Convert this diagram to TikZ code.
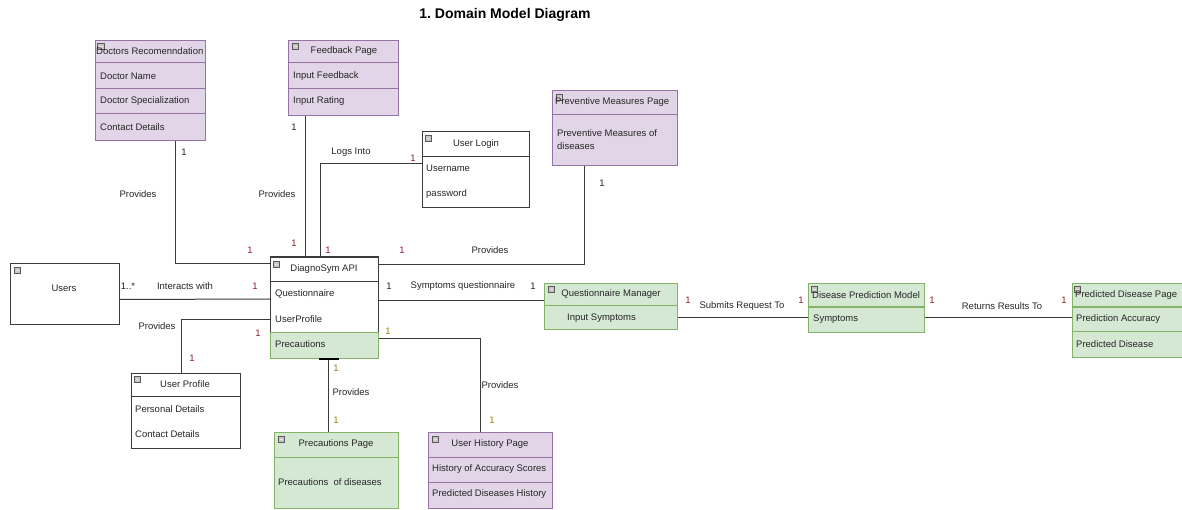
\documentclass[tikz,border=0pt]{standalone}
\usepackage{fontspec}
\setmainfont{Liberation Sans}
\frenchspacing
\begin{document}
\definecolor{pfill}{HTML}{E1D5E7}
\definecolor{pdraw}{HTML}{9673A6}
\definecolor{gfill}{HTML}{D5E8D4}
\definecolor{gdraw}{HTML}{82B366}
\definecolor{wdraw}{HTML}{3C3C3C}
\definecolor{linec}{HTML}{3A3A3A}
\definecolor{mred}{HTML}{8E1F2C}
\definecolor{molive}{HTML}{9A7B0A}
\tikzset{
  box/.style={rectangle, anchor=north west, inner sep=0pt, line width=1pt},
  pbox/.style={box, fill=pfill, draw=pdraw},
  gbox/.style={box, fill=gfill, draw=gdraw},
  wbox/.style={box, fill=white, draw=wdraw},
  psep/.style={draw=pdraw, line width=1pt},
  gsep/.style={draw=gdraw, line width=1pt},
  wsep/.style={draw=wdraw, line width=1pt},
  txt/.style={inner sep=0pt, font=\fontsize{9.5}{11}\selectfont, text=black!85},
  attr/.style={txt, anchor=west},
  hdr/.style={txt},
  conn/.style={draw=linec, line width=1pt},
  lbl/.style={txt},
  mult/.style={txt},
  icon/.style={fill=gray!45, draw=gray!70!black, line width=0.5pt},
}
\begin{tikzpicture}[x=1pt, y=-1pt]
\useasboundingbox (0,0) rectangle (1182,510);

% title
\node[font=\bfseries\fontsize{14}{16}\selectfont] (title) at (505,15) {1. Domain Model Diagram};

% ---------- class boxes ----------
% Doctors Recomenndation
\node[pbox, minimum width=110pt, minimum height=100pt] (doc) at (95,40) {};
\draw[psep] (95,63) -- (205,63) (95,89) -- (205,89) (95,114) -- (205,114);
\draw[icon] (97,43) rectangle (104,49); \draw[gray!20, line width=0.6pt] (98.5,46) -- (102.5,46);
\node[attr] (docT) at (96,51) {Doctors Recomenndation};
\node[attr] (docA) at (100,76) {Doctor Name};
\node[attr] (docB) at (100,101) {Doctor Specialization};
\node[attr] (docC) at (100,127) {Contact Details};

% Feedback Page
\node[pbox, minimum width=110pt, minimum height=75pt] (fb) at (288,40) {};
\draw[psep] (288,63) -- (398,63) (288,89) -- (398,89);
\draw[icon] (292,43) rectangle (298,49); \draw[gray!20, line width=0.6pt] (293.5,46) -- (296.5,46);
\node[hdr] (fbT) at (344,51) {Feedback Page};
\node[attr] (fbA) at (293,76) {Input Feedback};
\node[attr] (fbB) at (293,101) {Input Rating};

% User Login
\node[wbox, minimum width=107pt, minimum height=76pt] (login) at (422,131) {};
\draw[wsep] (422,157) -- (529,157);
\draw[icon] (425,135) rectangle (431,141); \draw[gray!20, line width=0.6pt] (426.5,138) -- (429.5,138);
\node[hdr] (loginT) at (476,144) {User Login};
\node[attr] (loginA) at (426,168) {Username};
\node[attr] (loginB) at (426,194) {password};

% Preventive Measures Page
\node[pbox, minimum width=125pt, minimum height=75pt] (prev) at (552,90) {};
\draw[psep] (552,115) -- (677,115);
\draw[icon] (556,94) rectangle (562,100); \draw[gray!20, line width=0.6pt] (557.5,97) -- (560.5,97);
\node[attr] (prevT) at (555,102) {Preventive Measures Page};
\node[attr] (prevA) at (557,133) {Preventive Measures of};
\node[attr] (prevB) at (557,146) {diseases};

% Users
\node[wbox, minimum width=109pt, minimum height=61pt] (users) at (10,263) {};
\draw[icon] (14,267) rectangle (20,273); \draw[gray!20, line width=0.6pt] (15.5,270) -- (18.5,270);
\node[hdr] (usersT) at (64,288) {Users};

% DiagnoSym API
\node[wbox, minimum width=108pt, minimum height=101pt] (api) at (270,257) {};
\fill[gfill] (270,332) rectangle (378,358);
\draw[gdraw, line width=1pt] (270,332) -- (270,358) -- (378,358) -- (378,332);
\draw[wdraw, line width=1pt] (270,332) -- (270,257) -- (378,257) -- (378,332);
\draw[wsep] (270,282) -- (378,282);
\draw[gsep] (270,332) -- (378,332);
\draw[icon] (273,261) rectangle (279,267); \draw[gray!20, line width=0.6pt] (274.5,264) -- (277.5,264);
\node[hdr] (apiT) at (324,269) {DiagnoSym API};
\node[attr] (apiA) at (275,294) {Questionnaire};
\node[attr] (apiB) at (275,319) {UserProfile};
\node[attr] (apiC) at (275,344) {Precautions};

% User Profile
\node[wbox, minimum width=109pt, minimum height=75pt] (up) at (131,373) {};
\draw[wsep] (131,396) -- (240,396);
\draw[icon] (134,376) rectangle (140,382); \draw[gray!20, line width=0.6pt] (135.5,379) -- (138.5,379);
\node[hdr] (upT) at (185,384) {User Profile};
\node[attr] (upA) at (135,409) {Personal Details};
\node[attr] (upB) at (135,434) {Contact Details};

% Precautions Page
\node[gbox, minimum width=124pt, minimum height=76pt] (pp) at (274,432) {};
\draw[gsep] (274,457) -- (398,457);
\draw[icon] (278,436) rectangle (284,442); \draw[gray!20, line width=0.6pt] (279.5,439) -- (282.5,439);
\node[hdr] (ppT) at (336,444) {Precautions Page};
\node[attr] (ppA) at (278,482) {Precautions\ \ of diseases};

% User History Page
\node[pbox, minimum width=124pt, minimum height=76pt] (uh) at (428,432) {};
\draw[psep] (428,457) -- (552,457) (428,482) -- (552,482);
\draw[icon] (432,436) rectangle (438,442); \draw[gray!20, line width=0.6pt] (433.5,439) -- (436.5,439);
\node[hdr] (uhT) at (490,444) {User History Page};
\node[attr] (uhA) at (432,469) {History of Accuracy Scores};
\node[attr] (uhB) at (432,494) {Predicted Diseases History};

% Questionnaire Manager
\node[gbox, minimum width=133pt, minimum height=46pt] (qm) at (544,283) {};
\draw[gsep] (544,306) -- (677,306);
\draw[icon] (548,286) rectangle (554,292); \draw[gray!20, line width=0.6pt] (549.5,289) -- (552.5,289);
\node[hdr] (qmT) at (611,294) {Questionnaire Manager};
\node[attr] (qmA) at (567,318) {Input Symptoms};

% Disease Prediction Model
\node[gbox, minimum width=116pt, minimum height=49pt] (dpm) at (808,283) {};
\draw[gsep] (808,307) -- (924,307);
\draw[icon] (811,286) rectangle (817,292); \draw[gray!20, line width=0.6pt] (812.5,289) -- (815.5,289);
\node[attr] (dpmT) at (812,295) {Disease Prediction Model};
\node[attr] (dpmA) at (813,319) {Symptoms};

% Predicted Disease Page
\node[gbox, minimum width=116pt, minimum height=74pt] (pdp) at (1072,283) {};
\draw[gsep] (1072,307) -- (1188,307) (1072,331) -- (1188,331);
\draw[icon] (1074,286) rectangle (1080,292); \draw[gray!20, line width=0.6pt] (1075.5,289) -- (1078.5,289);
\node[attr] (pdpT) at (1075,295) {Predicted Disease Page};
\node[attr] (pdpA) at (1076,319) {Prediction Accuracy};
\node[attr] (pdpB) at (1076,344) {Predicted Disease};

% ---------- connectors ----------
\draw[conn] ([xshift=25pt]doc.south) |- ([yshift=-7pt]api.north west);
\draw[conn] ([xshift=-38pt]fb.south) -- ([xshift=-19pt]api.north);
\draw[conn] ([yshift=6pt]login.west) -| ([xshift=-4pt]api.north);
\draw[conn] ([xshift=-30.5pt]prev.south) |- ([yshift=-8pt]api.north east);
\draw[conn] ([yshift=-5.5pt]users.east) -- ([yshift=-42pt]api.north west);
\draw[conn] ([yshift=-62pt]api.north west) -| ([xshift=-4.5pt]up.north);
\draw[conn] ([yshift=-44pt]api.north east) -- ([yshift=-18pt]qm.north west);
\draw[conn] ([xshift=4pt]api.south) -- ([xshift=-8pt]pp.north);
\draw[draw=black, line width=2pt] ([xshift=-6pt]api.south) -- ([xshift=14pt]api.south);
\draw[conn] ([yshift=-81pt]api.north east) -| ([xshift=-10pt]uh.north);
\draw[conn] ([yshift=-34pt]qm.north east) -- ([yshift=-34pt]dpm.north west);
\draw[conn] ([yshift=-34pt]dpm.north east) -- ([yshift=-34pt]pdp.north west);

% ---------- association labels ----------
\node[lbl] (pr1) at (138,194) {Provides};
\node[lbl] (pr2) at (277,194) {Provides};
\node[lbl] (logs) at (351,152) {Logs Into};
\node[lbl] (pr3) at (490,250) {Provides};
\node[lbl] (inter) at (185,286) {Interacts with};
\node[lbl] (symq) at (463,286) {Symptoms questionnaire};
\node[lbl] (pr4) at (157,326) {Provides};
\node[lbl] (pr5) at (351,392) {Provides};
\node[lbl] (pr6) at (500,385) {Provides};
\node[lbl] (subm) at (742,306) {Submits Request To};
\node[lbl] (ret) at (1002,306) {Returns Results To};

% ---------- multiplicities ----------
\node[mult] (m1) at (184,152) {1};
\node[mult, text=mred] (m2) at (250,250) {1};
\node[mult] (m3) at (294,127) {1};
\node[mult, text=mred] (m4) at (294,243) {1};
\node[mult, text=mred] (m5) at (413,158) {1};
\node[mult, text=mred] (m6) at (328,250) {1};
\node[mult, text=mred] (m7) at (402,250) {1};
\node[mult] (m8) at (602,183) {1};
\node[mult] (m9) at (128,286) {1..*};
\node[mult, text=mred] (m10) at (255,286) {1};
\node[mult] (m11) at (389,286) {1};
\node[mult] (m12) at (533,286) {1};
\node[mult, text=mred] (m13) at (258,333) {1};
\node[mult, text=molive] (m14) at (388,331) {1};
\node[mult, text=mred] (m15) at (192,358) {1};
\node[mult, text=molive] (m16) at (336,368) {1};
\node[mult, text=molive] (m17) at (336,420) {1};
\node[mult, text=molive] (m18) at (492,420) {1};
\node[mult, text=mred] (m19) at (688,300) {1};
\node[mult, text=mred] (m20) at (801,300) {1};
\node[mult, text=mred] (m21) at (932,300) {1};
\node[mult, text=mred] (m22) at (1064,300) {1};
\end{tikzpicture}
\end{document}
